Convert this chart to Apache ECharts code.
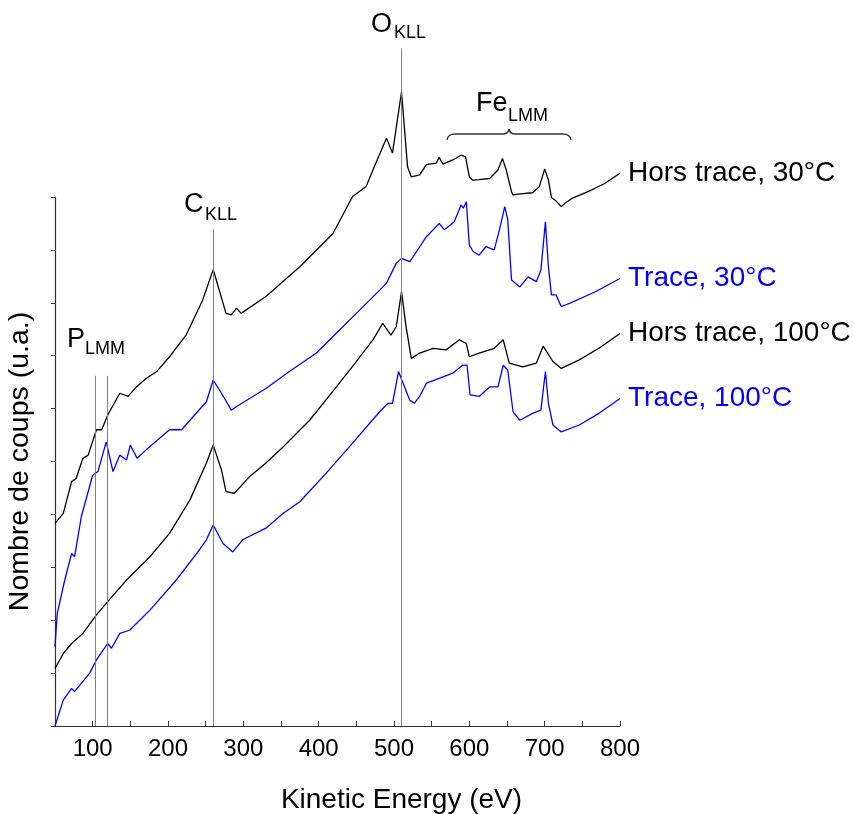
<!DOCTYPE html>
<html><head><meta charset="utf-8">
<script src="https://cdn.jsdelivr.net/npm/echarts@6/dist/echarts.min.js"></script>
<style>html,body{margin:0;padding:0;background:#fff}#c{width:854px;height:814px}</style>
</head><body><div id="c"></div>
<script>
// ---- data (energy eV, counts a.u.) ----
const seriesNames = ['Hors trace, 30°C', 'Trace, 30°C', 'Hors trace, 100°C', 'Trace, 100°C'];
const horsTrace30 = [[50,3.83],[61,4.02],[72,4.62],[78,4.68],[87,5.06],[94,5.12],[105,5.60],[112,5.60],[120,5.88],[136,6.29],[147,6.23],[158,6.41],[171,6.57],[185,6.70],[202,6.98],[224,7.39],[246,8.05],[260,8.63],[277,7.80],[284,7.77],[291,7.90],[297,7.80],[330,8.12],[375,8.68],[419,9.31],[445,10.01],[463,10.20],[472,10.51],[490,11.11],[498,10.83],[510,11.99],[518,10.57],[523,10.38],[534,10.42],[543,10.61],[556,10.64],[560,10.75],[565,10.62],[578,10.70],[589,10.79],[595,10.76],[600,10.38],[604,10.32],[613,10.33],[627,10.35],[638,10.51],[644,10.73],[649,10.51],[656,10.10],[658,10.04],[667,10.06],[684,10.08],[693,10.20],[700,10.53],[705,10.32],[709,9.99],[714,9.94],[722,9.82],[728,9.89],[737,9.98],[759,10.11],[779,10.25],[800,10.45]];
const trace30 = [[50,1.50],[53,2.13],[63,2.76],[72,3.26],[76,3.20],[85,3.96],[100,4.74],[107,4.81],[118,5.37],[127,4.81],[136,5.12],[145,5.03],[150,5.31],[159,5.06],[171,5.22],[202,5.60],[218,5.60],[251,6.13],[260,6.54],[271,6.29],[284,5.97],[291,6.04],[330,6.38],[361,6.70],[397,7.05],[423,7.42],[450,7.80],[481,8.24],[490,8.37],[503,8.75],[510,8.84],[521,8.78],[530,8.97],[543,9.25],[560,9.50],[567,9.38],[580,9.53],[589,9.85],[592,9.79],[596,9.91],[600,9.09],[605,8.97],[613,8.90],[622,9.06],[633,9.00],[640,9.38],[647,9.82],[651,9.57],[656,8.43],[667,8.30],[678,8.49],[689,8.40],[695,8.62],[701,9.53],[705,8.68],[709,8.15],[715,8.15],[722,7.93],[733,7.99],[766,8.20],[800,8.46]];
const horsTrace100 = [[50,1.09],[61,1.37],[72,1.56],[87,1.75],[105,2.10],[120,2.35],[145,2.76],[176,3.20],[202,3.64],[229,4.27],[251,4.97],[260,5.31],[271,4.84],[277,4.43],[288,4.40],[308,4.71],[330,4.97],[353,5.28],[388,5.78],[423,6.40],[445,6.80],[472,7.30],[485,7.61],[496,7.39],[503,7.55],[510,8.21],[516,7.55],[523,6.95],[534,7.05],[552,7.14],[569,7.11],[587,7.30],[596,7.23],[600,6.98],[613,7.05],[633,7.14],[645,7.30],[653,6.86],[671,6.79],[689,6.86],[698,7.18],[711,6.89],[722,6.76],[746,6.92],[773,7.15],[800,7.42]];
const trace100 = [[50,0],[61,0.49],[72,0.71],[76,0.65],[96,1.00],[105,1.25],[120,1.56],[125,1.47],[136,1.75],[149,1.81],[176,2.19],[211,2.76],[238,3.26],[251,3.52],[260,3.80],[273,3.45],[286,3.29],[299,3.52],[330,3.74],[353,4.02],[375,4.24],[410,4.78],[441,5.28],[481,5.94],[492,6.10],[498,6.10],[506,6.70],[514,6.41],[521,6.16],[527,6.10],[534,6.23],[543,6.48],[560,6.57],[578,6.67],[591,6.82],[597,6.82],[601,6.26],[613,6.23],[627,6.41],[638,6.41],[645,6.82],[651,6.73],[658,5.94],[667,5.78],[684,5.91],[695,5.97],[701,6.70],[705,6.10],[711,5.69],[722,5.56],[746,5.69],[773,5.92],[800,6.19]];
// vertical marker lines: [energy, top]
const markerLines = [[104, 6.62], [119, 6.62], [260, 9.39], [510, 12.81]];
const xTickLabels = [100, 200, 300, 400, 500, 600, 700, 800];

const curves = [horsTrace30, trace30, horsTrace100, trace100];
const colors = ['#000000', '#0000ff', '#000000', '#0000ff'];
const FONT = '"Liberation Sans", Arial, sans-serif';

const chart = echarts.init(document.getElementById('c'), null, {renderer: 'canvas'});

function lbl(main, sub, xMain, yMain, xSub, ySub) {
  return [
    {type: 'text', x: xMain, y: yMain, style: {text: main, font: '27px ' + FONT, fill: '#000', align: 'left', verticalAlign: 'middle'}},
    {type: 'text', x: xSub, y: ySub, style: {text: sub, font: '18px ' + FONT, fill: '#000', align: 'left', verticalAlign: 'middle'}}
  ];
}
const braceStyle = {stroke: '#333', lineWidth: 1.3, fill: null};
const brace = [
  {type: 'bezierCurve', shape: {x1: 447, y1: 140, cpx1: 448, cpy1: 134, x2: 455, y2: 134}, style: braceStyle},
  {type: 'line', shape: {x1: 455, y1: 134, x2: 503, y2: 134}, style: braceStyle},
  {type: 'bezierCurve', shape: {x1: 503, y1: 134, cpx1: 508, cpy1: 134, x2: 509, y2: 129}, style: braceStyle},
  {type: 'bezierCurve', shape: {x1: 509, y1: 129, cpx1: 510, cpy1: 134, x2: 515, y2: 134}, style: braceStyle},
  {type: 'line', shape: {x1: 515, y1: 134, x2: 563, y2: 134}, style: braceStyle},
  {type: 'bezierCurve', shape: {x1: 563, y1: 134, cpx1: 570, cpy1: 134, x2: 571, y2: 140}, style: braceStyle}
];

const series = curves.map((d, i) => ({
  name: seriesNames[i], type: 'line', xAxisIndex: 1, yAxisIndex: 1,
  data: d, showSymbol: false, symbol: 'none', z: 3,
  lineStyle: {color: colors[i], width: 1.3}, itemStyle: {color: colors[i]},
  endLabel: {show: true, formatter: '{a}', color: colors[i], fontSize: 28, fontFamily: FONT, distance: 8}
}));
series.push({
  type: 'line', xAxisIndex: 1, yAxisIndex: 1, data: [], z: 1, silent: true,
  markLine: {
    silent: true, symbol: ['none', 'none'], label: {show: false},
    lineStyle: {color: '#808080', width: 1, type: 'solid'},
    data: markerLines.map(m => [{coord: [m[0], 0]}, {coord: [m[0], m[1]]}])
  }
});

chart.setOption({
  animation: false,
  backgroundColor: '#ffffff',
  grid: [
    {left: 55, right: 234, top: 197, bottom: 88, containLabel: false, outerBoundsMode: 'none'},
    {left: 55, right: 234, top: 38.3, bottom: 88, containLabel: false, outerBoundsMode: 'none'}
  ],
  xAxis: [
    {gridIndex: 0, type: 'value', min: 50, max: 800, interval: 50,
     axisLine: {lineStyle: {color: '#333', width: 1.2}},
     axisTick: {inside: true, length: 5, lineStyle: {color: '#333'}},
     axisLabel: {formatter: v => (xTickLabels.indexOf(v) >= 0 ? String(v) : ''), color: '#000', fontSize: 24, fontFamily: FONT, margin: 11},
     splitLine: {show: false},
     name: 'Kinetic Energy (eV)', nameLocation: 'middle', nameGap: 60,
     nameTextStyle: {color: '#000', fontSize: 28, fontFamily: FONT, padding: [0, 0, 0, 128]}},
    {gridIndex: 1, type: 'value', min: 50, max: 800, show: false}
  ],
  yAxis: [
    {gridIndex: 0, type: 'value', min: 0, max: 10, interval: 1,
     axisLine: {show: true, lineStyle: {color: '#333', width: 1.2}},
     axisTick: {show: true, length: 4, lineStyle: {color: '#333'}},
     axisLabel: {show: false}, splitLine: {show: false},
     name: 'Nombre de coups (u.a.)', nameLocation: 'middle', nameRotate: 90, nameGap: 20,
     nameTextStyle: {color: '#000', fontSize: 28.5, fontFamily: FONT}},
    {gridIndex: 1, type: 'value', min: 0, max: 13, show: false}
  ],
  series: series,
  graphic: [].concat(
    lbl('O', 'KLL', 371, 24.5, 394, 33.5),
    lbl('C', 'KLL', 184, 204.5, 205, 215.5),
    lbl('P', 'LMM', 67, 340, 85, 349),
    lbl('Fe', 'LMM', 476, 104, 508, 116),
    brace
  )
});
</script></body></html>
